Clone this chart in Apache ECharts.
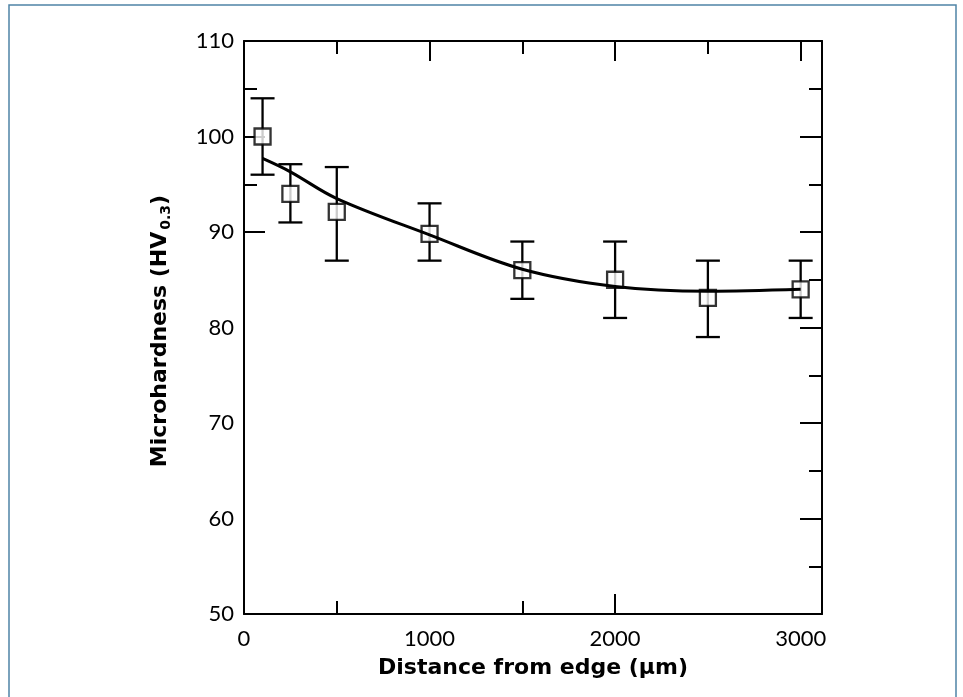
<!DOCTYPE html>
<html>
<head>
<meta charset="utf-8">
<title>Microhardness profile</title>
<script src="https://cdn.jsdelivr.net/npm/echarts@6/dist/echarts.min.js"></script>
<style>
  html, body { margin: 0; padding: 0; background: #ffffff; }
  #chart { width: 963px; height: 697px; }
</style>
</head>
<body>
<div id="chart"></div>
<script>
// Measured microhardness vs. distance from the edge
const distance = [100, 250, 500, 1000, 1500, 2000, 2500, 3000];   // µm
const hardness = [100, 94, 92.1, 89.8, 86, 85, 83.1, 84];          // HV0.3
const errLow   = [96, 91, 87, 87, 83, 81, 79, 81];
const errHigh  = [104, 97.1, 96.8, 93, 89, 89, 87, 87];

// Fitted trend curve sampled at the same distances
const fitDistance = [100, 250, 500, 1000, 1500, 2000, 2500, 3000];
const fitHardness = [97.7, 96.3, 93.5, 89.7, 86.1, 84.3, 83.8, 84.0];

// Tick values
const xLabelValues = [0, 1000, 2000, 3000];
const yLabelValues = [50, 60, 70, 80, 90, 100, 110];
const xMajorBottom = [2000];
const xMinorBottom = [500, 1500];
const xMajorTop = [1000, 2000, 3000];
const xMinorTop = [500, 1500, 2500];
const yMajorLeft = [90, 100];
const yMinorLeft = [95, 105];
const yMajorRight = [60, 70, 80, 90, 100];
const yMinorRight = [55, 65, 75, 85, 95, 105];

const X_MIN = 0, X_MAX = 3115, Y_MIN = 50, Y_MAX = 110;
const INK = '#000000';
const FONT = 'Lato';

const chart = echarts.init(document.getElementById('chart'), null, { renderer: 'canvas' });

function frameLine(show) {
  return { show: show, onZero: false, lineStyle: { color: INK, width: 2 } };
}
function xAx(pos, ticks, len, opts) {
  return Object.assign({
    type: 'value', position: pos, min: X_MIN, max: X_MAX, interval: 500,
    axisLine: frameLine(false),
    axisTick: { show: true, inside: true, length: len, customValues: ticks,
                lineStyle: { color: INK, width: 2 } },
    axisLabel: { show: false },
    splitLine: { show: false }
  }, opts || {});
}
function yAx(pos, ticks, len, opts) {
  return Object.assign({
    type: 'value', position: pos, min: Y_MIN, max: Y_MAX, interval: 5,
    axisLine: frameLine(false),
    axisTick: { show: true, inside: true, length: len, customValues: ticks,
                lineStyle: { color: INK, width: 2 } },
    axisLabel: { show: false },
    splitLine: { show: false }
  }, opts || {});
}
const plainNumber = v => String(v);

const option = {
  backgroundColor: '#ffffff',
  animation: false,
  grid: { left: 244, top: 41, right: 141, bottom: 83, containLabel: false },
  graphic: [
    {
      type: 'rect', silent: true, z: -10,
      shape: { x: 9, y: 5, width: 947, height: 720 },
      style: { fill: 'none', stroke: '#4f84a6', lineWidth: 1.5 }
    },
    {
      // rotated y-axis title
      type: 'text', silent: true,
      x: 160, y: 331, rotation: Math.PI / 2,
      style: {
        text: '{a|Microhardness (HV}{s|0.3}{a|)}',
        align: 'center', verticalAlign: 'middle',
        rich: {
          a: { fontFamily: 'DejaVu Sans', fontWeight: 'bold', fontSize: 22, fill: INK },
          s: { fontFamily: 'DejaVu Sans', fontWeight: 'bold', fontSize: 14, fill: INK, padding: [12, 0, 0, 2] }
        }
      }
    }
  ],
  xAxis: [
    xAx('bottom', xMajorBottom, 20, {
      axisLine: frameLine(true),
      axisLabel: { show: true, customValues: xLabelValues, margin: 14, formatter: plainNumber,
                   color: INK, fontFamily: FONT, fontSize: 22 },
      name: 'Distance from edge (\u03bcm)', nameLocation: 'middle', nameGap: 43,
      nameTextStyle: { color: INK, fontFamily: 'DejaVu Sans', fontWeight: 'bold', fontSize: 22 }
    }),
    xAx('bottom', xMinorBottom, 13),
    xAx('top', xMajorTop, 20, { axisLine: frameLine(true) }),
    xAx('top', xMinorTop, 13)
  ],
  yAxis: [
    yAx('left', yMajorLeft, 21, {
      axisLine: frameLine(true),
      axisLabel: { show: true, customValues: yLabelValues, margin: 10, formatter: plainNumber,
                   color: INK, fontFamily: FONT, fontSize: 22 }
    }),
    yAx('left', yMinorLeft, 13),
    yAx('right', yMajorRight, 22, { axisLine: frameLine(true) }),
    yAx('right', yMinorRight, 13)
  ],
  series: [
    {
      type: 'custom', name: 'error', z: 2,
      xAxisIndex: 0, yAxisIndex: 0,
      data: distance.map((d, i) => [d, errLow[i], errHigh[i]]),
      renderItem: function (params, api) {
        const x = api.value(0);
        const lo = api.coord([x, api.value(1)]);
        const hi = api.coord([x, api.value(2)]);
        const half = 12;
        const st = { stroke: INK, lineWidth: 2.3 };
        return {
          type: 'group',
          children: [
            { type: 'line', shape: { x1: lo[0], y1: lo[1], x2: hi[0], y2: hi[1] }, style: st },
            { type: 'line', shape: { x1: lo[0] - half, y1: lo[1], x2: lo[0] + half, y2: lo[1] }, style: st },
            { type: 'line', shape: { x1: hi[0] - half, y1: hi[1], x2: hi[0] + half, y2: hi[1] }, style: st }
          ]
        };
      }
    },
    {
      type: 'scatter', name: 'hardness', z: 3,
      xAxisIndex: 0, yAxisIndex: 0,
      data: distance.map((d, i) => [d, hardness[i]]),
      symbol: 'rect', symbolSize: 16,
      itemStyle: { color: '#ffffff', borderColor: INK, borderWidth: 2.3 }
    },
    {
      type: 'line', name: 'fit', z: 4,
      xAxisIndex: 0, yAxisIndex: 0,
      data: fitDistance.map((d, i) => [d, fitHardness[i]]),
      smooth: 0.35, showSymbol: false, symbol: 'none',
      lineStyle: { color: INK, width: 3 }
    }
  ]
};

chart.setOption(option);
</script>
</body>
</html>
